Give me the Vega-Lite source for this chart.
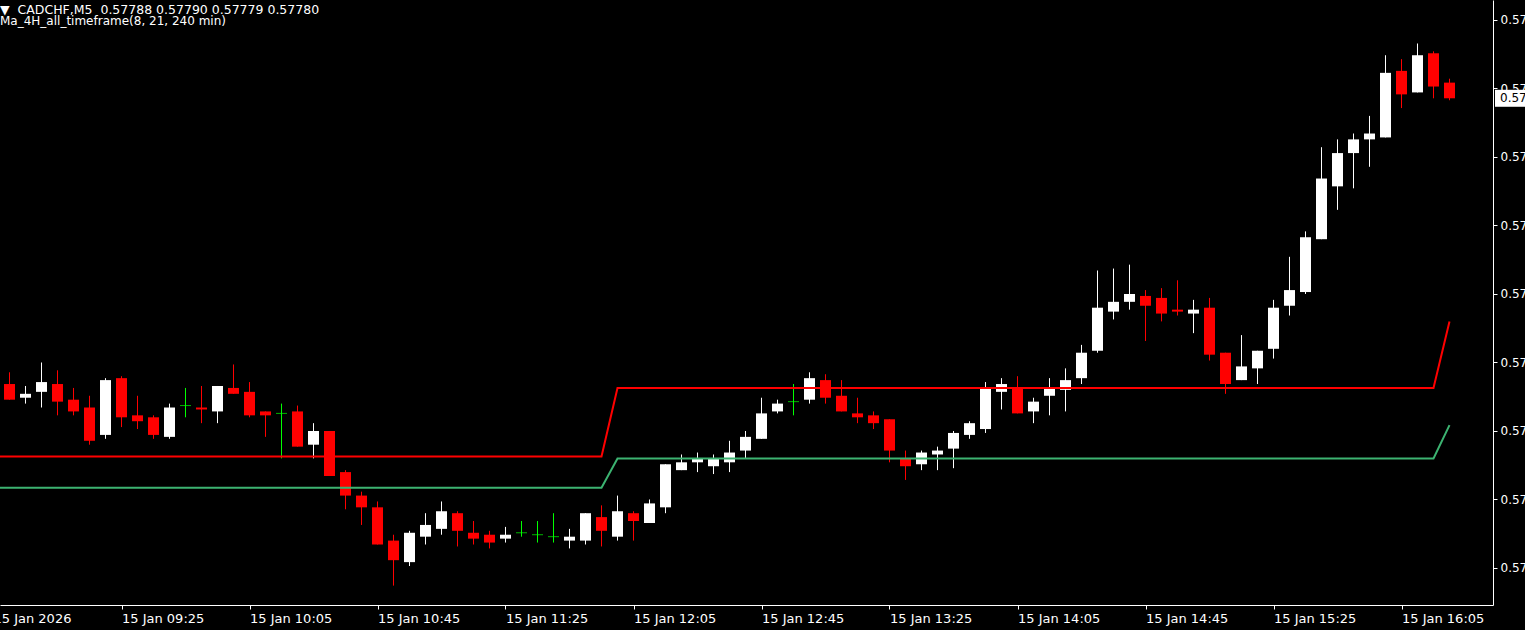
{
"$schema": "https://vega.github.io/schema/vega-lite/v6.json",
"width": 1493, "height": 605,
"autosize": {"type": "none"},
"padding": {"left": 0, "top": 0, "right": 32, "bottom": 25},
"background": "#000000",
"title": {"text": "▼\u00a0\u00a0CADCHF,M5\u00a0\u00a00.57788 0.57790 0.57779 0.57780", "subtitle": "Ma_4H_all_timeframe(8, 21, 240 min)", "anchor": "start", "frame": "group", "orient": "top", "offset": -27, "color": "#FFFFFF", "subtitleColor": "#FFFFFF", "font": "DejaVu Sans", "subtitleFont": "DejaVu Sans", "fontSize": 12.5, "subtitleFontSize": 12, "fontWeight": "normal", "subtitlePadding": 0},
"config": {"view": {"stroke": null}, "scale": {"continuousPadding": 0}, "axis": {"grid": false, "labelColor": "#FFFFFF", "domainColor": "#FFFFFF", "tickColor": "#FFFFFF", "labelFont": "DejaVu Sans", "labelFontSize": 12, "domainWidth": 1, "tickWidth": 1}},
"resolve": {"axis": {"x": "independent", "y": "independent"}},
"datasets": {
"candles": [
{"t":"2026-01-15T08:50","open":0.57634,"high":0.5764,"low":0.57626,"close":0.57626},
{"t":"2026-01-15T08:55","open":0.57627,"high":0.57633,"low":0.57624,"close":0.57629},
{"t":"2026-01-15T09:00","open":0.5763,"high":0.57645,"low":0.57622,"close":0.57635},
{"t":"2026-01-15T09:05","open":0.57634,"high":0.57641,"low":0.57618,"close":0.57625},
{"t":"2026-01-15T09:10","open":0.57626,"high":0.57632,"low":0.57618,"close":0.5762},
{"t":"2026-01-15T09:15","open":0.57622,"high":0.57628,"low":0.57603,"close":0.57605},
{"t":"2026-01-15T09:20","open":0.57608,"high":0.57637,"low":0.57606,"close":0.57636},
{"t":"2026-01-15T09:25","open":0.57637,"high":0.57638,"low":0.57612,"close":0.57617},
{"t":"2026-01-15T09:30","open":0.57618,"high":0.57628,"low":0.57611,"close":0.57615},
{"t":"2026-01-15T09:35","open":0.57617,"high":0.57618,"low":0.57606,"close":0.57608},
{"t":"2026-01-15T09:40","open":0.57607,"high":0.57624,"low":0.57606,"close":0.57622},
{"t":"2026-01-15T09:45","open":0.57623,"high":0.57632,"low":0.57617,"close":0.57623},
{"t":"2026-01-15T09:50","open":0.57622,"high":0.57633,"low":0.57614,"close":0.57621},
{"t":"2026-01-15T09:55","open":0.5762,"high":0.57633,"low":0.57614,"close":0.57633},
{"t":"2026-01-15T10:00","open":0.57632,"high":0.57644,"low":0.57629,"close":0.57629},
{"t":"2026-01-15T10:05","open":0.5763,"high":0.57635,"low":0.57617,"close":0.57618},
{"t":"2026-01-15T10:10","open":0.5762,"high":0.5762,"low":0.57607,"close":0.57618},
{"t":"2026-01-15T10:15","open":0.57619,"high":0.57624,"low":0.57596,"close":0.57619},
{"t":"2026-01-15T10:20","open":0.5762,"high":0.57623,"low":0.57602,"close":0.57602},
{"t":"2026-01-15T10:25","open":0.57603,"high":0.57614,"low":0.57596,"close":0.5761},
{"t":"2026-01-15T10:30","open":0.5761,"high":0.5761,"low":0.57587,"close":0.57587},
{"t":"2026-01-15T10:35","open":0.57589,"high":0.5759,"low":0.5757,"close":0.57577},
{"t":"2026-01-15T10:40","open":0.57577,"high":0.57579,"low":0.57562,"close":0.57571},
{"t":"2026-01-15T10:45","open":0.57571,"high":0.57574,"low":0.57552,"close":0.57552},
{"t":"2026-01-15T10:50","open":0.57554,"high":0.57557,"low":0.57531,"close":0.57544},
{"t":"2026-01-15T10:55","open":0.57543,"high":0.57559,"low":0.57541,"close":0.57558},
{"t":"2026-01-15T11:00","open":0.57556,"high":0.57568,"low":0.57552,"close":0.57562},
{"t":"2026-01-15T11:05","open":0.5756,"high":0.57574,"low":0.57557,"close":0.57569},
{"t":"2026-01-15T11:10","open":0.57568,"high":0.57569,"low":0.57551,"close":0.57559},
{"t":"2026-01-15T11:15","open":0.57558,"high":0.57564,"low":0.57552,"close":0.57555},
{"t":"2026-01-15T11:20","open":0.57557,"high":0.57559,"low":0.5755,"close":0.57553},
{"t":"2026-01-15T11:25","open":0.57555,"high":0.57561,"low":0.57553,"close":0.57557},
{"t":"2026-01-15T11:30","open":0.57558,"high":0.57564,"low":0.57556,"close":0.57558},
{"t":"2026-01-15T11:35","open":0.57557,"high":0.57564,"low":0.57553,"close":0.57557},
{"t":"2026-01-15T11:40","open":0.57556,"high":0.57568,"low":0.57553,"close":0.57556},
{"t":"2026-01-15T11:45","open":0.57554,"high":0.5756,"low":0.5755,"close":0.57556},
{"t":"2026-01-15T11:50","open":0.57554,"high":0.57568,"low":0.57552,"close":0.57568},
{"t":"2026-01-15T11:55","open":0.57566,"high":0.57572,"low":0.57551,"close":0.57559},
{"t":"2026-01-15T12:00","open":0.57556,"high":0.57577,"low":0.57554,"close":0.57569},
{"t":"2026-01-15T12:05","open":0.57568,"high":0.57569,"low":0.57554,"close":0.57564},
{"t":"2026-01-15T12:10","open":0.57563,"high":0.57575,"low":0.57563,"close":0.57573},
{"t":"2026-01-15T12:15","open":0.57571,"high":0.57593,"low":0.57568,"close":0.57593},
{"t":"2026-01-15T12:20","open":0.5759,"high":0.57598,"low":0.5759,"close":0.57594},
{"t":"2026-01-15T12:25","open":0.57594,"high":0.57599,"low":0.57589,"close":0.57596},
{"t":"2026-01-15T12:30","open":0.57592,"high":0.57598,"low":0.57588,"close":0.57596},
{"t":"2026-01-15T12:35","open":0.57594,"high":0.57605,"low":0.57589,"close":0.57599},
{"t":"2026-01-15T12:40","open":0.576,"high":0.5761,"low":0.57596,"close":0.57607},
{"t":"2026-01-15T12:45","open":0.57606,"high":0.57627,"low":0.57606,"close":0.57619},
{"t":"2026-01-15T12:50","open":0.5762,"high":0.57626,"low":0.57619,"close":0.57624},
{"t":"2026-01-15T12:55","open":0.57625,"high":0.57634,"low":0.57618,"close":0.57625},
{"t":"2026-01-15T13:00","open":0.57626,"high":0.5764,"low":0.57624,"close":0.57637},
{"t":"2026-01-15T13:05","open":0.57636,"high":0.57639,"low":0.57624,"close":0.57627},
{"t":"2026-01-15T13:10","open":0.57628,"high":0.57636,"low":0.5762,"close":0.5762},
{"t":"2026-01-15T13:15","open":0.57619,"high":0.57627,"low":0.57614,"close":0.57617},
{"t":"2026-01-15T13:20","open":0.57618,"high":0.5762,"low":0.57611,"close":0.57614},
{"t":"2026-01-15T13:25","open":0.57616,"high":0.57616,"low":0.57594,"close":0.576},
{"t":"2026-01-15T13:30","open":0.57596,"high":0.576,"low":0.57585,"close":0.57592},
{"t":"2026-01-15T13:35","open":0.57593,"high":0.576,"low":0.5759,"close":0.57599},
{"t":"2026-01-15T13:40","open":0.57598,"high":0.57602,"low":0.5759,"close":0.576},
{"t":"2026-01-15T13:45","open":0.57601,"high":0.5761,"low":0.57591,"close":0.57609},
{"t":"2026-01-15T13:50","open":0.57608,"high":0.57615,"low":0.57606,"close":0.57614},
{"t":"2026-01-15T13:55","open":0.57611,"high":0.57635,"low":0.57609,"close":0.57632},
{"t":"2026-01-15T14:00","open":0.5763,"high":0.57637,"low":0.57621,"close":0.57634},
{"t":"2026-01-15T14:05","open":0.57632,"high":0.57638,"low":0.57619,"close":0.57619},
{"t":"2026-01-15T14:10","open":0.5762,"high":0.57627,"low":0.57614,"close":0.57625},
{"t":"2026-01-15T14:15","open":0.57628,"high":0.57637,"low":0.57618,"close":0.57632},
{"t":"2026-01-15T14:20","open":0.57631,"high":0.57642,"low":0.5762,"close":0.57636},
{"t":"2026-01-15T14:25","open":0.57637,"high":0.57654,"low":0.57634,"close":0.5765},
{"t":"2026-01-15T14:30","open":0.57651,"high":0.57692,"low":0.5765,"close":0.57673},
{"t":"2026-01-15T14:35","open":0.57671,"high":0.57693,"low":0.57667,"close":0.57676},
{"t":"2026-01-15T14:40","open":0.57676,"high":0.57695,"low":0.57672,"close":0.5768},
{"t":"2026-01-15T14:45","open":0.57679,"high":0.57682,"low":0.57656,"close":0.57674},
{"t":"2026-01-15T14:50","open":0.57678,"high":0.57683,"low":0.57666,"close":0.5767},
{"t":"2026-01-15T14:55","open":0.57672,"high":0.57687,"low":0.57669,"close":0.57671},
{"t":"2026-01-15T15:00","open":0.5767,"high":0.57677,"low":0.5766,"close":0.57672},
{"t":"2026-01-15T15:05","open":0.57673,"high":0.57678,"low":0.57646,"close":0.57649},
{"t":"2026-01-15T15:10","open":0.5765,"high":0.5765,"low":0.57629,"close":0.57634},
{"t":"2026-01-15T15:15","open":0.57636,"high":0.57659,"low":0.57636,"close":0.57643},
{"t":"2026-01-15T15:20","open":0.57642,"high":0.57651,"low":0.57634,"close":0.57651},
{"t":"2026-01-15T15:25","open":0.57652,"high":0.57677,"low":0.57647,"close":0.57673},
{"t":"2026-01-15T15:30","open":0.57674,"high":0.57699,"low":0.57669,"close":0.57682},
{"t":"2026-01-15T15:35","open":0.57681,"high":0.57712,"low":0.5768,"close":0.57709},
{"t":"2026-01-15T15:40","open":0.57708,"high":0.57755,"low":0.57708,"close":0.57739},
{"t":"2026-01-15T15:45","open":0.57735,"high":0.57759,"low":0.57723,"close":0.57752},
{"t":"2026-01-15T15:50","open":0.57752,"high":0.57762,"low":0.57734,"close":0.57759},
{"t":"2026-01-15T15:55","open":0.57759,"high":0.57771,"low":0.57745,"close":0.57762},
{"t":"2026-01-15T16:00","open":0.5776,"high":0.57802,"low":0.5776,"close":0.57793},
{"t":"2026-01-15T16:05","open":0.57794,"high":0.578,"low":0.57775,"close":0.57782},
{"t":"2026-01-15T16:10","open":0.57783,"high":0.57808,"low":0.57783,"close":0.57802},
{"t":"2026-01-15T16:15","open":0.57803,"high":0.57804,"low":0.5778,"close":0.57786},
{"t":"2026-01-15T16:20","open":0.57788,"high":0.5779,"low":0.57779,"close":0.5778}
],
"ma": [
{"t":"2026-01-15T08:45","ma8":0.57597,"ma21":0.57581},
{"t":"2026-01-15T08:50","ma8":0.57597,"ma21":0.57581},
{"t":"2026-01-15T08:55","ma8":0.57597,"ma21":0.57581},
{"t":"2026-01-15T09:00","ma8":0.57597,"ma21":0.57581},
{"t":"2026-01-15T09:05","ma8":0.57597,"ma21":0.57581},
{"t":"2026-01-15T09:10","ma8":0.57597,"ma21":0.57581},
{"t":"2026-01-15T09:15","ma8":0.57597,"ma21":0.57581},
{"t":"2026-01-15T09:20","ma8":0.57597,"ma21":0.57581},
{"t":"2026-01-15T09:25","ma8":0.57597,"ma21":0.57581},
{"t":"2026-01-15T09:30","ma8":0.57597,"ma21":0.57581},
{"t":"2026-01-15T09:35","ma8":0.57597,"ma21":0.57581},
{"t":"2026-01-15T09:40","ma8":0.57597,"ma21":0.57581},
{"t":"2026-01-15T09:45","ma8":0.57597,"ma21":0.57581},
{"t":"2026-01-15T09:50","ma8":0.57597,"ma21":0.57581},
{"t":"2026-01-15T09:55","ma8":0.57597,"ma21":0.57581},
{"t":"2026-01-15T10:00","ma8":0.57597,"ma21":0.57581},
{"t":"2026-01-15T10:05","ma8":0.57597,"ma21":0.57581},
{"t":"2026-01-15T10:10","ma8":0.57597,"ma21":0.57581},
{"t":"2026-01-15T10:15","ma8":0.57597,"ma21":0.57581},
{"t":"2026-01-15T10:20","ma8":0.57597,"ma21":0.57581},
{"t":"2026-01-15T10:25","ma8":0.57597,"ma21":0.57581},
{"t":"2026-01-15T10:30","ma8":0.57597,"ma21":0.57581},
{"t":"2026-01-15T10:35","ma8":0.57597,"ma21":0.57581},
{"t":"2026-01-15T10:40","ma8":0.57597,"ma21":0.57581},
{"t":"2026-01-15T10:45","ma8":0.57597,"ma21":0.57581},
{"t":"2026-01-15T10:50","ma8":0.57597,"ma21":0.57581},
{"t":"2026-01-15T10:55","ma8":0.57597,"ma21":0.57581},
{"t":"2026-01-15T11:00","ma8":0.57597,"ma21":0.57581},
{"t":"2026-01-15T11:05","ma8":0.57597,"ma21":0.57581},
{"t":"2026-01-15T11:10","ma8":0.57597,"ma21":0.57581},
{"t":"2026-01-15T11:15","ma8":0.57597,"ma21":0.57581},
{"t":"2026-01-15T11:20","ma8":0.57597,"ma21":0.57581},
{"t":"2026-01-15T11:25","ma8":0.57597,"ma21":0.57581},
{"t":"2026-01-15T11:30","ma8":0.57597,"ma21":0.57581},
{"t":"2026-01-15T11:35","ma8":0.57597,"ma21":0.57581},
{"t":"2026-01-15T11:40","ma8":0.57597,"ma21":0.57581},
{"t":"2026-01-15T11:45","ma8":0.57597,"ma21":0.57581},
{"t":"2026-01-15T11:50","ma8":0.57597,"ma21":0.57581},
{"t":"2026-01-15T11:55","ma8":0.57597,"ma21":0.57581},
{"t":"2026-01-15T12:00","ma8":0.57632,"ma21":0.57596},
{"t":"2026-01-15T12:05","ma8":0.57632,"ma21":0.57596},
{"t":"2026-01-15T12:10","ma8":0.57632,"ma21":0.57596},
{"t":"2026-01-15T12:15","ma8":0.57632,"ma21":0.57596},
{"t":"2026-01-15T12:20","ma8":0.57632,"ma21":0.57596},
{"t":"2026-01-15T12:25","ma8":0.57632,"ma21":0.57596},
{"t":"2026-01-15T12:30","ma8":0.57632,"ma21":0.57596},
{"t":"2026-01-15T12:35","ma8":0.57632,"ma21":0.57596},
{"t":"2026-01-15T12:40","ma8":0.57632,"ma21":0.57596},
{"t":"2026-01-15T12:45","ma8":0.57632,"ma21":0.57596},
{"t":"2026-01-15T12:50","ma8":0.57632,"ma21":0.57596},
{"t":"2026-01-15T12:55","ma8":0.57632,"ma21":0.57596},
{"t":"2026-01-15T13:00","ma8":0.57632,"ma21":0.57596},
{"t":"2026-01-15T13:05","ma8":0.57632,"ma21":0.57596},
{"t":"2026-01-15T13:10","ma8":0.57632,"ma21":0.57596},
{"t":"2026-01-15T13:15","ma8":0.57632,"ma21":0.57596},
{"t":"2026-01-15T13:20","ma8":0.57632,"ma21":0.57596},
{"t":"2026-01-15T13:25","ma8":0.57632,"ma21":0.57596},
{"t":"2026-01-15T13:30","ma8":0.57632,"ma21":0.57596},
{"t":"2026-01-15T13:35","ma8":0.57632,"ma21":0.57596},
{"t":"2026-01-15T13:40","ma8":0.57632,"ma21":0.57596},
{"t":"2026-01-15T13:45","ma8":0.57632,"ma21":0.57596},
{"t":"2026-01-15T13:50","ma8":0.57632,"ma21":0.57596},
{"t":"2026-01-15T13:55","ma8":0.57632,"ma21":0.57596},
{"t":"2026-01-15T14:00","ma8":0.57632,"ma21":0.57596},
{"t":"2026-01-15T14:05","ma8":0.57632,"ma21":0.57596},
{"t":"2026-01-15T14:10","ma8":0.57632,"ma21":0.57596},
{"t":"2026-01-15T14:15","ma8":0.57632,"ma21":0.57596},
{"t":"2026-01-15T14:20","ma8":0.57632,"ma21":0.57596},
{"t":"2026-01-15T14:25","ma8":0.57632,"ma21":0.57596},
{"t":"2026-01-15T14:30","ma8":0.57632,"ma21":0.57596},
{"t":"2026-01-15T14:35","ma8":0.57632,"ma21":0.57596},
{"t":"2026-01-15T14:40","ma8":0.57632,"ma21":0.57596},
{"t":"2026-01-15T14:45","ma8":0.57632,"ma21":0.57596},
{"t":"2026-01-15T14:50","ma8":0.57632,"ma21":0.57596},
{"t":"2026-01-15T14:55","ma8":0.57632,"ma21":0.57596},
{"t":"2026-01-15T15:00","ma8":0.57632,"ma21":0.57596},
{"t":"2026-01-15T15:05","ma8":0.57632,"ma21":0.57596},
{"t":"2026-01-15T15:10","ma8":0.57632,"ma21":0.57596},
{"t":"2026-01-15T15:15","ma8":0.57632,"ma21":0.57596},
{"t":"2026-01-15T15:20","ma8":0.57632,"ma21":0.57596},
{"t":"2026-01-15T15:25","ma8":0.57632,"ma21":0.57596},
{"t":"2026-01-15T15:30","ma8":0.57632,"ma21":0.57596},
{"t":"2026-01-15T15:35","ma8":0.57632,"ma21":0.57596},
{"t":"2026-01-15T15:40","ma8":0.57632,"ma21":0.57596},
{"t":"2026-01-15T15:45","ma8":0.57632,"ma21":0.57596},
{"t":"2026-01-15T15:50","ma8":0.57632,"ma21":0.57596},
{"t":"2026-01-15T15:55","ma8":0.57632,"ma21":0.57596},
{"t":"2026-01-15T16:00","ma8":0.57632,"ma21":0.57596},
{"t":"2026-01-15T16:05","ma8":0.57632,"ma21":0.57596},
{"t":"2026-01-15T16:10","ma8":0.57632,"ma21":0.57596},
{"t":"2026-01-15T16:15","ma8":0.57632,"ma21":0.57596},
{"t":"2026-01-15T16:20","ma8":0.57666,"ma21":0.57613}
]
},
"layer": [
  {"data": {"name": "candles"},
   "mark": {"type": "rule", "strokeWidth": 1},
   "encoding": {
     "x": {"field": "t", "type": "temporal",
       "scale": {"domain": [{"year": 2026, "month": 1, "date": 15, "hours": 8, "minutes": 47, "seconds": 1, "milliseconds": 875}, {"year": 2026, "month": 1, "date": 15, "hours": 16, "minutes": 33, "seconds": 35, "milliseconds": 625}], "nice": false, "padding": 0},
       "axis": {"orient": "bottom", "title": null, "values": [
         {"year": 2026, "month": 1, "date": 15, "hours": 8, "minutes": 47, "seconds": 1, "milliseconds": 875},
         {"year": 2026, "month": 1, "date": 15, "hours": 9, "minutes": 25},
         {"year": 2026, "month": 1, "date": 15, "hours": 10, "minutes": 5},
         {"year": 2026, "month": 1, "date": 15, "hours": 10, "minutes": 45},
         {"year": 2026, "month": 1, "date": 15, "hours": 11, "minutes": 25},
         {"year": 2026, "month": 1, "date": 15, "hours": 12, "minutes": 5},
         {"year": 2026, "month": 1, "date": 15, "hours": 12, "minutes": 45},
         {"year": 2026, "month": 1, "date": 15, "hours": 13, "minutes": 25},
         {"year": 2026, "month": 1, "date": 15, "hours": 14, "minutes": 5},
         {"year": 2026, "month": 1, "date": 15, "hours": 14, "minutes": 45},
         {"year": 2026, "month": 1, "date": 15, "hours": 15, "minutes": 25},
         {"year": 2026, "month": 1, "date": 15, "hours": 16, "minutes": 5}],
         "labelExpr": "hours(datum.value) == 8 ? '15 Jan 2026' : timeFormat(datum.value, '%d %b %H:%M')",
         "labelOffset": {"condition": {"test": "hours(datum.value) == 8", "value": -7}, "value": 0},
         "tickOpacity": {"condition": {"test": "hours(datum.value) == 8", "value": 0}, "value": 1},
         "labelFontSize": 13,
         "labelAlign": "left", "labelBaseline": "top", "labelPadding": 3, "tickSize": 4, "labelOverlap": false, "labelFlush": false, "labelBound": false}},
     "y": {"field": "low", "type": "quantitative", "scale": {"domain": [0.57521094, 0.57830219], "nice": false, "zero": false, "padding": 0},
       "axis": {"orient": "right", "title": null, "values": [0.5782, 0.57785, 0.5775, 0.57715, 0.5768, 0.57645, 0.5761, 0.57575, 0.5754], "format": ".5f", "tickSize": 4, "labelPadding": 3, "labelAlign": "left", "labelBaseline": "middle", "labelBound": false, "labelFlush": false, "labelOverlap": false}},
     "y2": {"field": "high"},
     "color": {"condition": [{"test": "datum.close === datum.open", "value": "#00FF00"}, {"test": "datum.close > datum.open", "value": "#FFFFFF"}], "value": "#FF0000"}
   }},
  {"data": {"name": "candles"},
   "transform": [{"filter": "datum.close !== datum.open"}],
   "mark": {"type": "bar", "size": 11},
   "encoding": {
     "x": {"field": "t", "type": "temporal", "axis": null},
     "y": {"field": "open", "type": "quantitative", "axis": null},
     "y2": {"field": "close"},
     "color": {"condition": {"test": "datum.close > datum.open", "value": "#FFFFFF"}, "value": "#FF0000"}
   }},
  {"data": {"name": "candles"},
   "transform": [{"filter": "datum.close === datum.open"}],
   "mark": {"type": "tick", "orient": "horizontal", "size": 11, "thickness": 1, "color": "#00FF00"},
   "encoding": {
     "x": {"field": "t", "type": "temporal", "axis": null},
     "y": {"field": "open", "type": "quantitative", "axis": null}
   }},
  {"data": {"name": "ma"},
   "mark": {"type": "line", "color": "#3CB371", "strokeWidth": 2, "clip": true},
   "encoding": {
     "x": {"field": "t", "type": "temporal", "axis": null},
     "y": {"field": "ma21", "type": "quantitative", "axis": null}
   }},
  {"data": {"name": "ma"},
   "mark": {"type": "line", "color": "#FF0000", "strokeWidth": 2, "clip": true},
   "encoding": {
     "x": {"field": "t", "type": "temporal", "axis": null},
     "y": {"field": "ma8", "type": "quantitative", "axis": null}
   }},
  {"data": {"values": [{"price": 0.5778}]},
   "mark": {"type": "rect", "color": "#FFFFFF", "xOffset": 2, "x2Offset": 2},
   "encoding": {
     "x": {"datum": {"year": 2026, "month": 1, "date": 15, "hours": 16, "minutes": 33, "seconds": 35, "milliseconds": 625}, "type": "temporal", "axis": null},
     "x2": {"datum": {"year": 2026, "month": 1, "date": 15, "hours": 16, "minutes": 43, "seconds": 35, "milliseconds": 625}},
     "y": {"datum": 0.5778434, "type": "quantitative", "axis": null},
     "y2": {"datum": 0.5777566}
   }},
  {"data": {"values": [{"price": 0.5778, "label": "0.57780"}]},
   "mark": {"type": "text", "align": "left", "baseline": "middle", "dx": 7, "color": "#000000", "font": "DejaVu Sans", "fontSize": 12},
   "encoding": {
     "x": {"datum": {"year": 2026, "month": 1, "date": 15, "hours": 16, "minutes": 33, "seconds": 35, "milliseconds": 625}, "type": "temporal", "axis": null},
     "y": {"field": "price", "type": "quantitative", "axis": null},
     "text": {"field": "label"}
   }}
]
}
